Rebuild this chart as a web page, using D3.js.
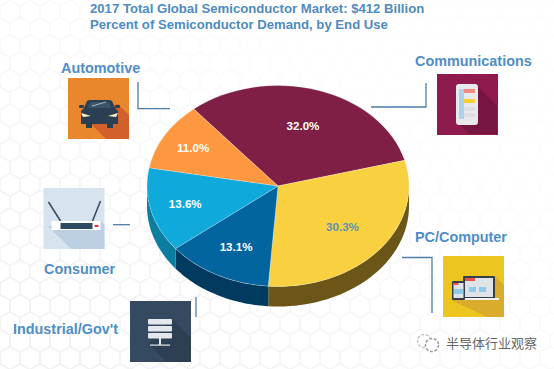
<!DOCTYPE html>
<html>
<head>
<meta charset="utf-8">
<script src="https://cdn.jsdelivr.net/npm/d3@7"></script>
<style>
  html, body { margin: 0; padding: 0; background: #fff; }
  svg { display: block; }
  text { font-family: "Liberation Sans", Arial, sans-serif; font-weight: 700; }
  .title { fill: #4f8bbf; font-size: 13.15px; }
  .cat { fill: #4f8ec6; font-size: 14.4px; }
  .pct { font-size: 11.6px; }
  .conn { fill: none; stroke: #4d7ea8; stroke-width: 1.3; }
</style>
</head>
<body>
<div id="chart"></div>
<script>
const CATEGORIES = ["Communications", "PC/Computer", "Industrial/Gov't", "Consumer", "Automotive"];
const SHARES = [32.0, 30.3, 13.1, 13.6, 11.0];
const TITLES = [
  "2017 Total Global Semiconductor Market: $412 Billion",
  "Percent of Semiconductor Demand, by End Use",
];

const TOP_COLORS = ["#7f1f45", "#f9d03f", "#03659f", "#0fa9dc", "#fd9840"];
const SIDE_COLORS = ["#5c1532", "#6b5618", "#003a5e", "#0b7d9f", "#b06a2a"];
const PCT_COLORS = ["#fff", "#5b93b8", "#fff", "#fff", "#fff"];
const LABEL_RADIUS = [0.63, 0.64, 0.685, 0.73, 0.75];

const width = 554, height = 369;
const cx = 278, cy = 186, rx = 131, ry = 100.5, depth = 20;

const svg = d3.select("#chart").append("svg").attr("width", width).attr("height", height);
const defs = svg.append("defs");

// faint hexagon backdrop, stronger towards the lower left
const pattern = defs.append("pattern")
  .attr("id", "hex").attr("patternUnits", "userSpaceOnUse")
  .attr("width", 20).attr("height", 34.64);
pattern.append("path")
  .attr("d", "M0,5.77L10,0L20,5.77M0,5.77V17.32M20,5.77V17.32M0,17.32L10,23.09L20,17.32M10,23.09V34.64")
  .attr("fill", "none").attr("stroke", "#f0f0f3").attr("stroke-width", 1.6);

const fade = defs.append("linearGradient").attr("id", "fade")
  .attr("x1", 0).attr("y1", 1).attr("x2", 1).attr("y2", 0);
fade.append("stop").attr("offset", 0.1).attr("stop-color", "#fff");
fade.append("stop").attr("offset", 0.7).attr("stop-color", "#222");
defs.append("mask").attr("id", "fadeMask")
  .append("rect").attr("width", width).attr("height", height).attr("fill", "url(#fade)");

svg.append("rect").attr("width", width).attr("height", height).attr("fill", "#fff");
svg.append("rect").attr("width", width).attr("height", height)
  .attr("fill", "url(#hex)").attr("mask", "url(#fadeMask)");

// titles
svg.selectAll("text.title").data(TITLES).join("text")
  .attr("class", "title")
  .attr("x", 90)
  .attr("y", (d, i) => 13 + i * 16)
  .text(d => d);

// pie, drawn on a unit circle and squashed into an ellipse
const pie = d3.pie().sort(null).value(d => d)
  .startAngle(-40 * Math.PI / 180)
  .endAngle(320 * Math.PI / 180);
const slices = pie(SHARES).map((d, i) => ({ ...d, i }));

const rim = a => [rx * Math.sin(a), -ry * Math.cos(a)];
const side = d => {
  const a0 = Math.max(d.startAngle, Math.PI / 2);
  const a1 = Math.min(d.endAngle, 3 * Math.PI / 2);
  if (a1 <= a0) return null;
  const steps = d3.range(0, 41).map(k => a0 + (a1 - a0) * k / 40);
  const top = steps.map(rim);
  const bottom = steps.slice().reverse().map(a => {
    const [x, y] = rim(a);
    return [x, y + depth];
  });
  return d3.line()(top.concat(bottom)) + "Z";
};

const pieG = svg.append("g").attr("transform", `translate(${cx},${cy})`);

pieG.selectAll("path.side").data(slices.filter(side)).join("path")
  .attr("class", "side")
  .attr("d", side)
  .attr("fill", d => SIDE_COLORS[d.i]);

const arc = d3.arc().innerRadius(0).outerRadius(1);
pieG.append("g").attr("transform", `scale(${rx},${ry})`)
  .selectAll("path").data(slices).join("path")
  .attr("d", arc)
  .attr("fill", d => TOP_COLORS[d.i])
  .attr("stroke", "rgba(255,255,255,0.35)")
  .attr("stroke-width", 0.7)
  .attr("vector-effect", "non-scaling-stroke");

pieG.selectAll("text.pct").data(slices).join("text")
  .attr("class", "pct")
  .attr("text-anchor", "middle")
  .attr("dy", "0.36em")
  .attr("fill", d => PCT_COLORS[d.i])
  .attr("transform", d => {
    const r = LABEL_RADIUS[d.i];
    const [x, y] = d3.arc().innerRadius(r).outerRadius(r).centroid(d);
    return `translate(${x * rx},${y * ry})`;
  })
  .text(d => d.value.toFixed(1) + "%");

// connector lines
[
  "M138,82V108.7H170",
  "M371,107H426V83",
  "M402,257.5H432V313",
  "M113,224.7H130",
  "M196,297V317",
].forEach(d => svg.append("path").attr("class", "conn").attr("d", d));

// category labels
const LABEL_POS = [[415, 66], [415, 242], [13, 334], [44, 274], [61, 73]];
svg.selectAll("text.cat").data(CATEGORIES).join("text")
  .attr("class", "cat")
  .attr("x", (d, i) => LABEL_POS[i][0])
  .attr("y", (d, i) => LABEL_POS[i][1])
  .text(d => d);

// icons: 61 x 61 tiles with a long diagonal shadow
function tile(x, y, bg, shadow, shadowPath) {
  const g = svg.append("g").attr("transform", `translate(${x},${y})`);
  g.append("rect").attr("width", 61).attr("height", 61).attr("fill", bg);
  g.append("path").attr("d", shadowPath).attr("fill", shadow);
  return g;
}
function rects(g, list) {
  list.forEach(([x, y, w, h, fill, r]) => g.append("rect")
    .attr("x", x).attr("y", y).attr("width", w).attr("height", h)
    .attr("fill", fill).attr("rx", r || 0));
}

const car = tile(68, 78, "#e8872b", "#d2602a", "M50,26L61,37V61H38L14,37Z");
car.append("path").attr("d", "M16,30L19,23Q20,22 23,22H40Q43,22 44,23L47,30L50,33V46H45V50H39V46H24V50H18V46H13V33Z").attr("fill", "#2b3f52");
car.append("path").attr("d", "M20,30L22,24H41L43,30Z").attr("fill", "#3b5468");
car.append("path").attr("d", "M24,28L38,24").attr("stroke", "#cfe0ea").attr("stroke-width", 0.7);
rects(car, [[11, 27, 5, 3, "#2b3f52", 1], [47, 27, 5, 3, "#2b3f52", 1]]);
car.append("path").attr("d", "M13,35L23,38L15,39Z").attr("fill", "#fff3c9");
car.append("path").attr("d", "M50,35L40,38L48,39Z").attr("fill", "#fff3c9");

const router = tile(43.5, 188, "#d7e3ef", "#bdd0e3", "M57,33L61,37V61H28L4,38Z");
router.append("path").attr("d", "M5,14L17,33M57,13L49,33").attr("stroke", "#3d4f5f").attr("stroke-width", 1.6);
rects(router, [[8, 33, 49, 9, "#fff"], [17, 35, 32, 6, "#2f4a62"], [51, 37, 4, 2, "#d8353f"]]);

const server = tile(130, 301, "#354a60", "#2c3f53", "M42,18L61,37V61H36L18,42Z");
rects(server, [[18, 18, 24, 5.5, "#e4e8ec", 1], [18, 25, 24, 5.5, "#e4e8ec", 1], [18, 32, 24, 5.5, "#e4e8ec", 1],
  [29, 37, 2, 7, "#e4e8ec"], [20, 43.5, 20, 1.2, "#e4e8ec"]]);

const phone = tile(437, 74, "#8f1a4d", "#761640", "M40,12L60,32V60H32L20,48Z");
rects(phone, [[19, 10, 22, 41, "#e9e9ec", 3], [22, 15, 5, 30, "#a9d3ec"], [27, 15, 11, 4, "#f08a80"],
  [27, 25, 11, 4, "#f5d032"], [27, 33, 11, 4, "#dddde3"], [27, 39, 11, 4, "#dddde3"]]);

const laptop = tile(443, 256, "#edc51f", "#d9ac2c", "M52,20L61,29V61H44L8,44Z");
rects(laptop, [[20, 20, 32, 23, "#33404c", 1], [22, 22, 28, 19, "#dfe3e7"], [22, 22, 10, 3, "#e8524a"],
  [26, 31, 7, 5, "#8fcbe8"], [36, 31, 7, 5, "#8fcbe8"], [18, 42, 38, 2, "#f2f2f2"],
  [9, 25, 13, 19, "#33404c", 1], [10.5, 27, 10, 15, "#dfe3e7"], [10.5, 27, 5, 2, "#e8524a"], [11, 33, 9, 5, "#8fcbe8"]]);

// watermark
const mark = svg.append("g").attr("transform", "translate(417,343)");
mark.append("circle").attr("cx", 7).attr("cy", -2).attr("r", 6.5).attr("fill", "none").attr("stroke", "#c5c5c5").attr("stroke-width", 1.5).attr("stroke-dasharray", "3 1.5");
mark.append("circle").attr("cx", 15).attr("cy", 2).attr("r", 6.5).attr("fill", "#fff").attr("stroke", "#9a9a9a").attr("stroke-width", 1.5).attr("stroke-dasharray", "3 1.5");
svg.append("text").attr("x", 446).attr("y", 348)
  .attr("fill", "#666")
  .style("font-family", '"Noto Sans CJK SC", sans-serif')
  .style("font-weight", 400)
  .style("font-size", "13px")
  .text("半导体行业观察");
</script>
</body>
</html>
